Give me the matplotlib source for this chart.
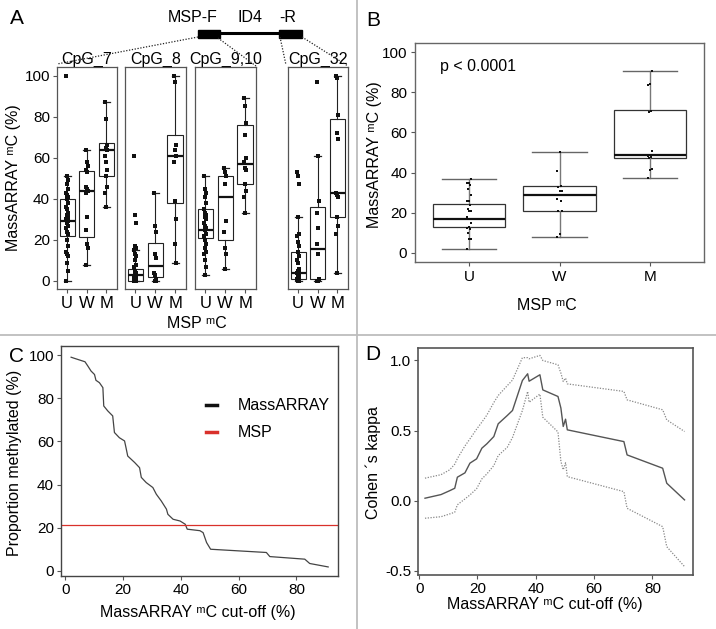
import matplotlib
matplotlib.use('Agg')
import matplotlib.pyplot as plt
from matplotlib.lines import Line2D
import numpy as np

plt.rcParams['font.family'] = ['Liberation Sans', 'DejaVu Sans']
plt.rcParams['font.size'] = 10

# ---------------- data ----------------
groups = ['U', 'W', 'M']
cpg_names = ['CpG_7', 'CpG_8', 'CpG_9,10', 'CpG_32']

# Panel A: individual MassARRAY values per MSP group
cpg7_U = [100, 51, 49, 47, 45, 43, 42, 41, 40, 38, 36, 35, 33, 32, 31, 30, 29, 29, 28, 27, 26, 24, 23, 20, 17, 14, 13, 12, 9, 5, 0]
cpg7_W = [64, 58, 56, 54, 53, 46, 45, 44, 43, 31, 25, 18, 16, 8]
cpg7_M = [87, 79, 66, 65, 64, 61, 58, 54, 51, 46, 43, 36]
cpg8_U = [61, 32, 28, 17, 16, 15, 13, 12, 10, 8, 7, 5, 4, 3, 3, 2, 2, 1, 1, 0, 0, 0]
cpg8_W = [43, 27, 24, 13, 11, 4, 3, 1, 0, 0]
cpg8_M = [100, 97, 66, 64, 61, 58, 39, 30, 18, 9]
cpg910_U = [51, 45, 43, 41, 38, 35, 33, 32, 31, 30, 28, 27, 26, 25, 23, 22, 20, 18, 16, 14, 13, 10, 7, 3]
cpg910_W = [55, 53, 51, 47, 29, 24, 16, 13, 6]
cpg910_M = [89, 85, 77, 71, 60, 58, 55, 54, 47, 44, 41, 33]
cpg32_U = [53, 51, 47, 31, 23, 22, 19, 17, 14, 12, 10, 9, 6, 5, 5, 4, 4, 3, 3, 2, 1, 1, 0, 0]
cpg32_W = [97, 61, 39, 33, 26, 18, 13, 1, 0, 0]
cpg32_M = [100, 99, 81, 72, 69, 43, 42, 41, 31, 27, 23, 4]

# Panel A box statistics: [whisker low, Q1, median, Q3, whisker high] for U, W, M
cpg7_stats = [[0, 22, 29, 40, 51], [8, 21.5, 44, 53.5, 64], [36, 51, 64, 67, 87]]
cpg8_stats = [[0, 0, 3, 6, 15], [0, 2, 7.5, 18.5, 43], [9, 38, 61, 71, 100]]
cpg910_stats = [[3, 21, 25, 35, 51], [6, 20, 41, 51, 55], [33, 47, 57, 76, 89]]
cpg32_stats = [[0, 1, 4, 14, 31], [0, 1, 15.5, 36, 61], [4, 31, 43, 79, 100]]

# Panel B: averaged MassARRAY values per MSP group
avg_U = [2, 7, 7, 10, 12, 12.5, 13, 15, 17, 17, 18, 21, 21, 22, 24, 26, 26, 29, 32, 34, 35, 35, 37]
avg_W = [8, 9.5, 21, 21, 26, 27, 31, 31, 33, 33.5, 41, 50]
avg_M = [37.5, 41.5, 42, 47.5, 48, 48.5, 49, 50.5, 70, 70.5, 83.5, 84, 90.5]
avg_stats = [[2, 13, 17, 24.5, 37], [8, 21, 29, 33.5, 50], [37.5, 47.5, 49, 71, 90.5]]
p_text = 'p < 0.0001'

# Panel C: proportion methylated vs cut-off
cutoff_C = [2.0, 3.1, 6.8, 7.8, 8.9, 10.1, 10.6, 11.8, 13.0, 13.3, 14.7, 16.4, 17.0, 18.7, 20.5, 21.0,
            21.6, 24.0, 25.7, 26.3, 28.0, 30.3, 31.5, 33.2, 35.0, 35.5, 37.3, 39.7, 41.5, 42.2, 46.6,
            47.7, 48.9, 50.3, 69.6, 70.8, 82.9, 84.6, 91.0]
prop_C = [99.0, 98.5, 96.9, 94.9, 92.6, 91.0, 88.3, 87.2, 84.9, 76.4, 74.1, 71.8, 64.1, 61.7, 60.2, 57.1,
          53.2, 50.2, 47.8, 43.3, 40.9, 38.6, 35.5, 32.4, 28.6, 26.2, 23.9, 23.1, 21.6, 19.3, 18.6,
          17.7, 13.1, 10.0, 8.5, 6.6, 5.4, 3.4, 1.8]
msp_prop = 21.3

# Panel D: Cohen's kappa with confidence limits
cutoff_D = [2, 7.5, 10.5, 12.2, 13.1, 15.7, 17.4, 19.7, 21.5, 23.2, 25.6, 27.1, 30.2, 32, 35.4, 37.2,
            37.7, 41.4, 42.4, 47.6, 48.6, 49.4, 50.2, 50.8, 70.2, 71.3, 83.5, 84.9, 91]
kappa = [0.017, 0.043, 0.071, 0.088, 0.167, 0.198, 0.267, 0.298, 0.374, 0.405, 0.457, 0.548, 0.607,
         0.643, 0.857, 0.905, 0.852, 0.898, 0.79, 0.743, 0.66, 0.529, 0.581, 0.505, 0.421, 0.326,
         0.231, 0.124, 0.005]
kappa_hi = [0.16, 0.185, 0.22, 0.26, 0.30, 0.39, 0.44, 0.51, 0.56, 0.61, 0.70, 0.75, 0.82, 0.86, 1.02,
            1.02, 1.012, 1.036, 1.0, 0.969, 0.91, 0.85, 0.874, 0.833, 0.779, 0.719, 0.648, 0.576, 0.493]
kappa_lo = [-0.126, -0.115, -0.095, -0.083, -0.03, 0.012, 0.04, 0.085, 0.155, 0.19, 0.25, 0.321, 0.38,
            0.45, 0.643, 0.779, 0.702, 0.76, 0.595, 0.49, 0.28, 0.22, 0.27, 0.171, 0.064, -0.055,
            -0.186, -0.329, -0.471]

# ---------------- layout helpers ----------------
W, H = 716, 629
fig = plt.figure(figsize=(7.16, 6.29), dpi=100)


def rect(l, t, r, b):
    return [l / W, 1 - b / H, (r - l) / W, (b - t) / H]


def to_stats(st):
    out = []
    for s in st:
        out.append(dict(whislo=s[0], q1=s[1], med=s[2], q3=s[3], whishi=s[4], fliers=[]))
    return out


def jitter(n, amp):
    return np.array([((k * 7) % 5 - 2) * amp for k in range(n)])


frame_col = '#555555'

# ---------------- Panel A ----------------
a_rects = [(57, 67, 117, 289), (125, 67, 186, 289), (195, 67, 256, 289), (288, 67, 348, 289)]
a_points = [[cpg7_U, cpg7_W, cpg7_M], [cpg8_U, cpg8_W, cpg8_M],
            [cpg910_U, cpg910_W, cpg910_M], [cpg32_U, cpg32_W, cpg32_M]]
a_stats = [cpg7_stats, cpg8_stats, cpg910_stats, cpg32_stats]

for i, (r, pts, st, name) in enumerate(zip(a_rects, a_points, a_stats, cpg_names)):
    ax = fig.add_axes(rect(*r))
    ax.bxp(to_stats(st), positions=[1, 2, 3], widths=0.77, capwidths=0.35, showfliers=False,
           patch_artist=True,
           boxprops=dict(facecolor='white', edgecolor='#222222', linewidth=0.8),
           medianprops=dict(color='#111111', linewidth=1.6),
           whiskerprops=dict(color='#222222', linewidth=0.8),
           capprops=dict(color='#222222', linewidth=0.9))
    for g, vals in enumerate(pts):
        ax.scatter(g + 1 + jitter(len(vals), 0.025), vals, s=5, marker='s', color='#111111',
                   linewidths=0, zorder=5)
    ax.set_xlim(0.48, 3.55)
    ax.set_ylim(-3.9, 104.2)
    ax.set_xticks([1, 2, 3])
    ax.set_xticklabels(groups, fontsize=12)
    ax.tick_params(axis='x', length=3, pad=2, color=frame_col)
    if i == 0:
        ax.set_yticks([0, 20, 40, 60, 80, 100])
        ax.tick_params(axis='y', length=3, pad=2, labelsize=11, color=frame_col)
    else:
        ax.set_yticks([])
    for sp in ax.spines.values():
        sp.set_color(frame_col)
        sp.set_linewidth(0.9)
    ax.set_title(name, fontsize=11.5, pad=1)

# ---------------- Panel B ----------------
axB = fig.add_axes(rect(415, 43, 704, 262))
axB.bxp(to_stats(avg_stats), positions=[1, 2, 3], widths=0.8, capwidths=0.6, showfliers=False,
        patch_artist=True,
        boxprops=dict(facecolor='white', edgecolor='#333333', linewidth=0.9),
        medianprops=dict(color='#111111', linewidth=1.6),
        whiskerprops=dict(color='#777777', linewidth=1.0),
        capprops=dict(color='#666666', linewidth=1.0))
for g, vals in enumerate([avg_U, avg_W, avg_M]):
    axB.scatter(g + 1 + jitter(len(vals), 0.012), vals, s=4, marker='s', color='#111111',
                linewidths=0, zorder=5)
axB.set_xlim(0.4, 3.6)
axB.set_ylim(-4.5, 104.5)
axB.set_xticks([1, 2, 3])
axB.set_xticklabels(groups, fontsize=12)
axB.set_yticks([0, 20, 40, 60, 80, 100])
axB.tick_params(length=3, pad=2.5, labelsize=11, color=frame_col)
for sp in axB.spines.values():
    sp.set_color('#666666')
    sp.set_linewidth(1.0)
axB.text(0.68, 93, p_text, va='center', ha='left', fontsize=11.5)

# ---------------- Panel C ----------------
axC = fig.add_axes(rect(61, 346, 338, 576))
axC.plot(cutoff_C, prop_C, color='#444444', lw=0.9)
axC.axhline(msp_prop, color='#d9312b', lw=0.9)
axC.set_xlim(-1.5, 94.4)
axC.set_ylim(-2.4, 104.2)
axC.set_xticks([0, 20, 40, 60, 80])
axC.set_yticks([0, 20, 40, 60, 80, 100])
axC.tick_params(length=3, pad=2, labelsize=11, color=frame_col)
for sp in axC.spines.values():
    sp.set_color('#444444')
    sp.set_linewidth(1.0)
handles = [Line2D([], [], color='#111111', lw=2.5), Line2D([], [], color='#d9312b', lw=2.5)]
axC.legend(handles, ['MassARRAY', 'MSP'], loc='upper left', bbox_to_anchor=(0.47, 0.835),
           frameon=False, handlelength=0.7, handletextpad=1.3, labelspacing=0.75, fontsize=11.5)

# ---------------- Panel D ----------------
axD = fig.add_axes(rect(418, 348, 693, 575))
axD.plot(cutoff_D, kappa, color='#555555', lw=1.0)
axD.plot(cutoff_D, kappa_hi, color='#888888', lw=0.9, ls=(0, (1, 1.2)))
axD.plot(cutoff_D, kappa_lo, color='#888888', lw=0.9, ls=(0, (1, 1.2)))
axD.set_xlim(-0.4, 93.9)
axD.set_ylim(-0.531, 1.089)
axD.set_xticks([0, 20, 40, 60, 80])
axD.set_yticks([-0.5, 0.0, 0.5, 1.0])
axD.set_yticklabels(['-0.5', '0.0', '0.5', '1.0'])
axD.tick_params(length=3, pad=2, labelsize=11, color=frame_col)
for sp in axD.spines.values():
    sp.set_color('#555555')
    sp.set_linewidth(1.2)

# ---------------- overlay: diagram, labels, dividers ----------------
ov = fig.add_axes([0, 0, 1, 1], facecolor='none', zorder=10)
ov.set_xlim(0, W)
ov.set_ylim(H, 0)
ov.axis('off')

div_col = '#bdbdbd'
ov.plot([0, W], [335, 335], color=div_col, lw=1.3)
ov.plot([357, 357], [0, H], color=div_col, lw=1.3)

# gene diagram
ov.plot([220, 279], [33.3, 33.3], color='black', lw=2.2)
ov.add_patch(plt.Rectangle((198, 29.5), 22, 8, color='black'))
ov.add_patch(plt.Rectangle((279, 29.5), 23, 8, color='black'))
ov.text(193, 18, 'MSP-F', ha='center', va='center', fontsize=11.5)
ov.text(250, 18, 'ID4', ha='center', va='center', fontsize=11.5)
ov.text(288, 18, '-R', ha='center', va='center', fontsize=11.5)
dot = dict(color='#222222', lw=0.9, ls=(0, (1, 1.3)))
ov.plot([198, 57], [37, 64], **dot)
ov.plot([218, 256], [38, 66], **dot)
ov.plot([280, 286], [37, 65], **dot)
ov.plot([302, 348], [37, 66], **dot)

# panel letters
for lab, (x, y) in zip('ABCD', [(17, 19), (373, 20), (17, 356), (373, 355)]):
    ov.text(x, y, lab, ha='center', va='center', fontsize=15)

sup_m = '\u1d50'
ylab = 'MassARRAY ' + sup_m + 'C (%)'
xlabAB = 'MSP ' + sup_m + 'C'
xlabCD = 'MassARRAY ' + sup_m + 'C cut-off (%)'
ov.text(14, 178, ylab, rotation=90, ha='center', va='center', fontsize=11.5)
ov.text(374, 155, ylab, rotation=90, ha='center', va='center', fontsize=11.5)
ov.text(197, 323, xlabAB, ha='center', va='center', fontsize=11.5)
ov.text(547, 305, xlabAB, ha='center', va='center', fontsize=11.5)
ov.text(15, 463, 'Proportion methylated (%)', rotation=90, ha='center', va='center', fontsize=11.5)
ov.text(373, 463, 'Cohen \u00b4s kappa', rotation=90, ha='center', va='center', fontsize=11.5)
ov.text(198, 613, xlabCD, ha='center', va='center', fontsize=11.5)
ov.text(545, 605, xlabCD, ha='center', va='center', fontsize=11.5)

fig.savefig('out.png', dpi=100)
